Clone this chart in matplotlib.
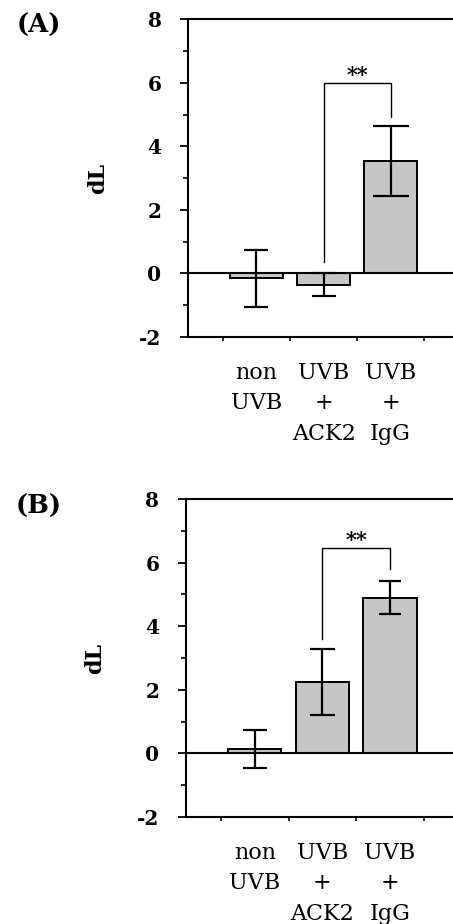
import numpy as np
import matplotlib.pyplot as plt

# data
groups = ['non\nUVB', 'UVB\n+\nACK2', 'UVB\n+\nIgG']
mean_a = [-0.15, -0.35, 3.55]
err_a = [0.9, 0.35, 1.1]
mean_b = [0.15, 2.24, 4.9]
err_b = [0.6, 1.03, 0.53]
yticks = [-2, 0, 2, 4, 6, 8]

serif = 'DejaVu Serif'
plt.rcParams['font.family'] = serif

fig = plt.figure(figsize=(4.53, 9.24), dpi=100)


def panel(rect, means, errs, caps, label, lab_y, brk):
    ax = fig.add_axes(rect)
    x = np.arange(len(means))
    ax.bar(x, means, width=0.79, color='#c6c6c6', edgecolor='black', linewidth=1.4, zorder=2)
    for xi, m, e, c in zip(x, means, errs, caps):
        ax.errorbar(xi, m, yerr=e, fmt='none', ecolor='black', elinewidth=1.6,
                    capsize=c, capthick=1.6, zorder=3)
    ax.axhline(0, color='black', linewidth=1.5, zorder=4)

    # significance bracket
    y_left, y_right, y_top = brk
    ax.plot([1, 1, 2, 2], [y_left, y_top, y_top, y_right], color='black', linewidth=1.0)
    ax.text(1.5, y_top - 0.05, '**', ha='center', va='bottom', fontsize=15, fontweight='bold')

    ax.set_xlim(-1.02, 2.93)
    ax.set_ylim(-2, 8)
    ax.set_yticks(yticks)
    ax.set_yticks([-1, 1, 3, 5, 7], minor=True)
    ax.set_yticklabels([str(t) for t in yticks], fontsize=14.5, fontweight='bold')
    ax.set_xticks([-0.5, 0.5, 1.5, 2.5])
    ax.set_xticklabels([])
    ax.tick_params(axis='y', which='major', direction='out', length=6, width=1.3, pad=13)
    ax.tick_params(axis='y', which='minor', direction='out', length=3.5, width=1.2)
    ax.tick_params(axis='x', direction='out', length=3, width=1.2)
    ax.spines['right'].set_visible(False)
    for s in ['left', 'top', 'bottom']:
        ax.spines[s].set_linewidth(1.5)

    for xi, g in zip(x, groups):
        ax.text(xi, -2.78, g, ha='center', va='top', fontsize=16, linespacing=1.5)

    ax.set_ylabel('dL', fontsize=16, fontweight='bold')
    ax.yaxis.set_label_coords(-0.296, 0.5)
    fig.text(0.086, lab_y, label, ha='center', va='center', fontsize=18.5, fontweight='bold')
    return ax


panel([0.415, 0.6353, 0.585, 0.3436], mean_a, err_a, [8.5, 8.5, 13], '(A)', 0.973,
      (0.35, 4.93, 6.0))
panel([0.41, 0.1158, 0.59, 0.3442], mean_b, err_b, [8.5, 9, 8], '(B)', 0.4524,
      (3.6, 5.8, 6.45))

fig.savefig('out.png', dpi=100)
